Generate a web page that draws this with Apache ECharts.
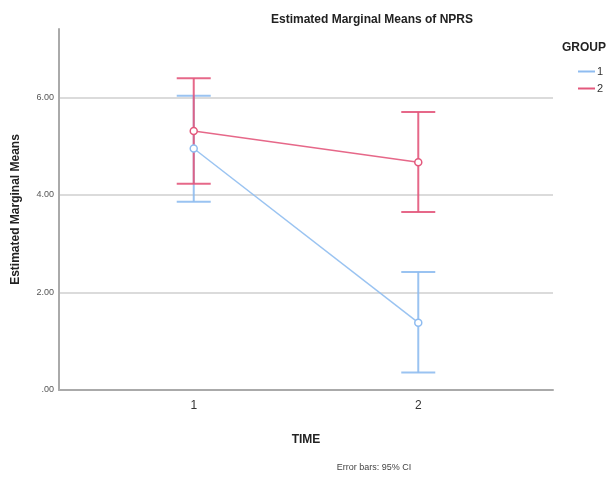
<!DOCTYPE html>
<html>
<head>
<meta charset="utf-8">
<script src="https://cdn.jsdelivr.net/npm/echarts@6/dist/echarts.min.js"></script>
<style>html,body{margin:0;padding:0;background:#fff;}#c{width:612px;height:479px;}</style>
</head>
<body>
<div id="c"></div>
<script>
const times = [1, 2];
const groupNames = ['1', '2'];
const group1Mean = [4.95, 1.38];
const group1Lower = [3.86, 0.36];
const group1Upper = [6.03, 2.42];
const group2Mean = [5.31, 4.67];
const group2Lower = [4.23, 3.65];
const group2Upper = [6.39, 5.70];
const yTicks = [0, 2, 4, 6];

const blue = '#8fbcf0';
const red = '#e3587c';
const font = '"Liberation Sans", Arial, sans-serif';

function errData(lower, upper) {
  return times.map((t, i) => [t, lower[i], upper[i]]);
}
function errSeries(name, lower, upper, color) {
  return {
    type: 'custom',
    name: name,
    data: errData(lower, upper),
    z: 3,
    renderItem: function (params, api) {
      const x = api.value(0);
      const lo = api.coord([x, api.value(1)]);
      const hi = api.coord([x, api.value(2)]);
      const w = 17;
      const style = { stroke: color, lineWidth: 2, opacity: 0.9 };
      return {
        type: 'group',
        children: [
          { type: 'line', shape: { x1: lo[0], y1: lo[1], x2: hi[0], y2: hi[1] }, style: style },
          { type: 'line', shape: { x1: lo[0] - w, y1: lo[1], x2: lo[0] + w, y2: lo[1] }, style: style },
          { type: 'line', shape: { x1: hi[0] - w, y1: hi[1], x2: hi[0] + w, y2: hi[1] }, style: style }
        ]
      };
    }
  };
}
function lineSeries(name, means, color) {
  return {
    type: 'line',
    name: name,
    data: times.map((t, i) => [t, means[i]]),
    symbol: 'circle',
    symbolSize: 7,
    itemStyle: { color: '#fff', borderColor: color, borderWidth: 1.5, opacity: 1 },
    lineStyle: { color: color, width: 1.5, opacity: 0.9 },
    z: 4
  };
}

const chart = echarts.init(document.getElementById('c'), null, { renderer: 'canvas' });
chart.setOption({
  animation: false,
  color: [blue, red],
  title: [
    { text: 'Estimated Marginal Means of NPRS', left: 367, top: 9, textAlign: 'center',
      textStyle: { fontFamily: font, fontSize: 12, fontWeight: 'bold', color: '#222' } },
    { text: 'GROUP', left: 557, top: 37,
      textStyle: { fontFamily: font, fontSize: 12, fontWeight: 'bold', color: '#222' } },
    { text: 'Error bars: 95% CI', left: 369, top: 458, textAlign: 'center',
      textStyle: { fontFamily: font, fontSize: 9, fontWeight: 'normal', color: '#444' } }
  ],
  legend: {
    data: groupNames.map(n => ({ name: n, icon: 'rect' })),
    orient: 'vertical',
    left: 573, top: 61,
    itemWidth: 17, itemHeight: 2, itemGap: 6,
    textStyle: { fontFamily: font, fontSize: 11, color: '#333', padding: [0, 0, 0, -3] },
    selectedMode: false
  },
  grid: { left: 59, right: 59, top: 29, bottom: 89 },
  xAxis: {
    type: 'value', min: 0.4, max: 2.6,
    name: 'TIME', nameLocation: 'middle', nameGap: 44,
    nameTextStyle: { fontFamily: font, fontSize: 12, fontWeight: 'bold', color: '#222' },
    axisLine: { lineStyle: { color: '#aaa', width: 2 } },
    axisTick: { show: false },
    splitLine: { show: false },
    axisLabel: { customValues: times, fontFamily: font, fontSize: 12, color: '#333', margin: 10 }
  },
  yAxis: {
    type: 'value', min: 0, max: 7.4, interval: 2,
    name: 'Estimated Marginal Means', nameLocation: 'middle', nameGap: 37,
    nameTextStyle: { fontFamily: font, fontSize: 12, fontWeight: 'bold', color: '#222' },
    axisLine: { show: true, lineStyle: { color: '#aaa', width: 2 } },
    axisTick: { show: false },
    splitLine: { show: true, showMaxLine: false, lineStyle: { color: '#cfcfcf', width: 1.5 } },
    axisLabel: { showMaxLabel: false, fontFamily: font, fontSize: 9, color: '#555', margin: 5,
      formatter: v => (v === 0 ? '.00' : v.toFixed(2)) }
  },
  series: [
    errSeries('1', group1Lower, group1Upper, blue),
    errSeries('2', group2Lower, group2Upper, red),
    lineSeries('1', group1Mean, blue),
    lineSeries('2', group2Mean, red)
  ]
});
</script>
</body>
</html>
